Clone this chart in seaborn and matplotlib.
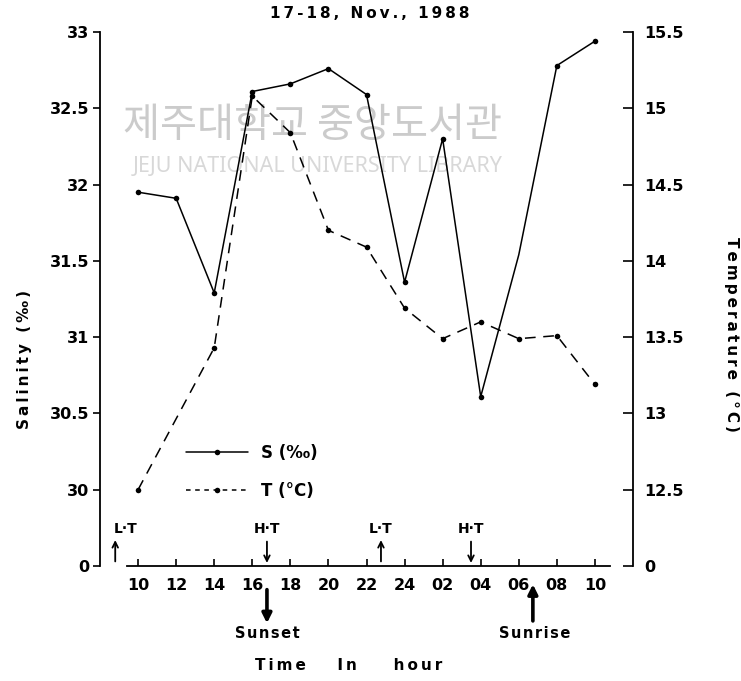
import matplotlib
matplotlib.use("Agg")
import matplotlib.pyplot as plt
import seaborn as sns
import pandas as pd
from matplotlib.lines import Line2D

# Sampling times in continuous hours (10 h on the 17th -> 34 h = 10 h on the 18th)
hours_s = [10, 12, 14, 16, 18, 20, 22, 24, 26, 28, 30, 32, 34]
salinity = [31.95, 31.91, 31.29, 32.61, 32.66, 32.76, 32.59, 31.36, 32.30, 30.61, 31.54, 32.78, 32.94]
hours_t = [10, 14, 16, 18, 20, 22, 24, 26, 28, 30, 32, 34]
temperature = [12.50, 13.43, 15.08, 14.84, 14.20, 14.09, 13.69, 13.49, 13.60, 13.49, 13.51, 13.19]

tick_hours = [10, 12, 14, 16, 18, 20, 22, 24, 26, 28, 30, 32, 34]
tick_labels = ["10", "12", "14", "16", "18", "20", "22", "24", "02", "04", "06", "08", "10"]

sal_ticks = [29.5, 30, 30.5, 31, 31.5, 32, 32.5, 33]
sal_labels = ["0", "30", "30.5", "31", "31.5", "32", "32.5", "33"]
temp_ticks = [12, 12.5, 13, 13.5, 14, 14.5, 15, 15.5]
temp_labels = ["0", "12.5", "13", "13.5", "14", "14.5", "15", "15.5"]

tide_names = ["L·T", "H·T", "L·T", "H·T"]
tide_hours = [8.8, 16.77, 22.76, 27.49]
tide_dirs = ["up", "down", "up", "down"]

sun_names = ["Sunset", "Sunrise"]
sun_hours = [16.77, 30.74]
sun_dirs = ["down", "up"]

sns.set_theme(style="ticks")
plt.rcParams["font.family"] = ["DejaVu Sans"]
plt.rcParams.update({"text.color": "black", "axes.labelcolor": "black",
                     "xtick.color": "black", "ytick.color": "black"})


def spaced(text, sep="\u2009"):
    """Typewriter-like letter spacing for the labels."""
    return sep.join(text)


df_s = pd.DataFrame({"hour": hours_s, "S": salinity})
df_t = pd.DataFrame({"hour": hours_t, "T": temperature})

fig = plt.figure(figsize=(7.41, 6.81), dpi=100)
ax = fig.add_axes([100 / 741, 1 - 566 / 681, 533 / 741, 534 / 681])
ax.patch.set_alpha(0)
ax2 = ax.twinx()
ax2.patch.set_alpha(0)

# Library watermark of the scanned source
ax.text(0.398, (566 - 125) / 534, "제주대학교 중앙도서관", transform=ax.transAxes,
        ha="center", va="center", fontsize=29, color="#cbcbcb",
        family=["Noto Sans CJK KR", "DejaVu Sans"], zorder=0)
ax.text(0.409, (566 - 166) / 534, "JEJU NATIONAL UNIVERSITY LIBRARY", transform=ax.transAxes,
        ha="center", va="center", fontsize=15.5, color="#d8d8d8",
        family=["Noto Sans", "DejaVu Sans"], zorder=0)

marks = [i for i, h in enumerate(hours_s) if h != 30]
sns.lineplot(data=df_s, x="hour", y="S", ax=ax, color="black", lw=1.1,
             marker="o", markersize=4, markeredgewidth=0, markevery=marks, zorder=3)
sns.lineplot(data=df_t, x="hour", y="T", ax=ax2, color="black", lw=1.1,
             linestyle=(0, (7, 5)), marker="o", markersize=4, markeredgewidth=0, zorder=3)

ax.set_xlim(8, 36)
ax.set_ylim(29.5, 33)
ax2.set_ylim(12, 15.5)

ax.set_xticks(tick_hours)
ax.set_xticklabels(tick_labels)
ax.set_yticks(sal_ticks)
ax.set_yticklabels(sal_labels)
ax2.set_yticks(temp_ticks)
ax2.set_yticklabels(temp_labels)

for lab in ax.get_xticklabels() + ax.get_yticklabels() + ax2.get_yticklabels():
    lab.set_fontsize(11.5)
    lab.set_fontweight("bold")

ax.tick_params(axis="x", direction="in", length=5, width=1.2, pad=9)
ax.tick_params(axis="y", direction="out", length=5, width=1.2, pad=3)
ax2.tick_params(axis="y", direction="in", length=7, width=1.2, pad=8)

for a in (ax, ax2):
    a.spines["top"].set_visible(False)
    for s in ("left", "right", "bottom"):
        a.spines[s].set_linewidth(1.3)
        a.spines[s].set_color("black")
ax.spines["right"].set_visible(False)
ax2.spines["left"].set_visible(False)
ax2.spines["bottom"].set_visible(False)
ax.spines["bottom"].set_bounds(9.4, 34.8)

ax.set_xlabel("")
ax.set_ylabel("")
ax2.set_ylabel("")

ax.text(0.507, (566 - 14) / 534, spaced("17-18, Nov., 1988"), transform=ax.transAxes,
        ha="center", va="center", fontsize=11, fontweight="bold")
ax.text(-0.141, 0.386, spaced("Salinity (‰)"), transform=ax.transAxes, rotation=90,
        ha="center", va="center", fontsize=11, fontweight="bold")
ax.text(1.184, 0.433, spaced("Temperature (°C)"), transform=ax.transAxes, rotation=270,
        ha="center", va="center", fontsize=11, fontweight="bold")
ax.text(0.467, (566 - 665) / 534,
        spaced("Time") + "      " + spaced("In") + "       " + spaced("hour"),
        transform=ax.transAxes, ha="center", va="center", fontsize=11, fontweight="bold")

# Tide markers above the time axis
for name, h, d in zip(tide_names, tide_hours, tide_dirs):
    if d == "up":
        start, end = 29.53, 29.67
    else:
        start, end = 29.66, 29.52
    ax.annotate("", xy=(h, end), xytext=(h, start),
                arrowprops=dict(arrowstyle="->", lw=1.3, color="black",
                                shrinkA=0, shrinkB=0, mutation_scale=10))
    tx = h + 0.55 if name == "L·T" and h < 10 else h
    ax.text(tx, 29.745, name, ha="center", va="center", fontsize=10, fontweight="bold")

# Sunset / sunrise markers below the time axis
for name, h, d in zip(sun_names, sun_hours, sun_dirs):
    if d == "down":
        start, end = 29.345, 29.125
    else:
        start, end = 29.14, 29.38
    ax.annotate("", xy=(h, end), xytext=(h, start), annotation_clip=False,
                arrowprops=dict(arrowstyle="-|>", lw=2.6, color="black",
                                shrinkA=0, shrinkB=0, mutation_scale=14))
    ax.text(h + (0.1 if d == "up" else 0.0), 29.06, spaced(name, "\u200a"),
            ha="center", va="center", fontsize=10.5, fontweight="bold", clip_on=False)

handles = [
    Line2D([], [], color="black", lw=1.1, marker="o", markersize=4, markeredgewidth=0),
    Line2D([], [], color="black", lw=1.1, linestyle=(0, (3, 3)), marker="o",
           markersize=4, markeredgewidth=0),
]
leg = ax.legend(handles, ["S (‰)", "T (°C)"], loc="upper left",
                bbox_to_anchor=((186 - 100) / 533, (566 - 444) / 534),
                frameon=False, handlelength=3.7, handletextpad=0.8,
                labelspacing=1.2, borderpad=0, borderaxespad=0, numpoints=1,
                prop=dict(size=12, weight="bold"))

fig.savefig("out.png", dpi=100)
